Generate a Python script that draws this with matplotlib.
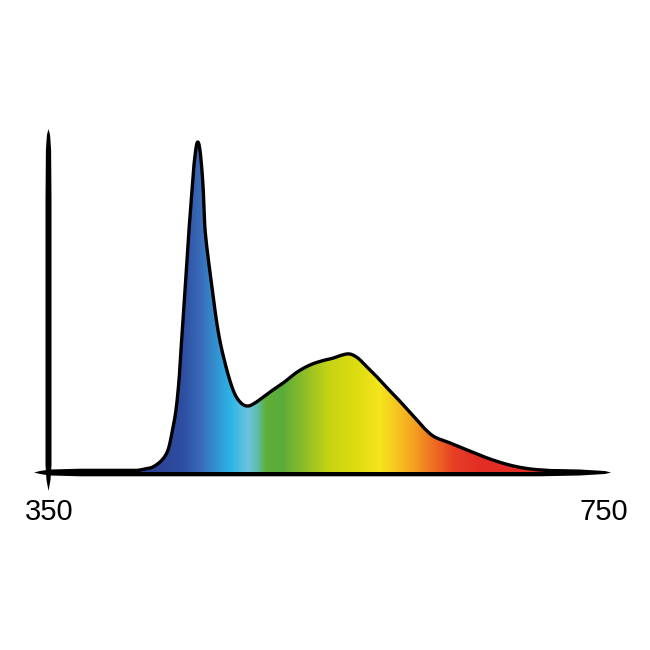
import numpy as np
import matplotlib
matplotlib.use('agg')
import matplotlib.pyplot as plt
from matplotlib.colors import LinearSegmentedColormap
from matplotlib.patches import Polygon

########################## spectrum data ###############################
wavelength = [402.0, 412.8, 420.0, 425.8, 432.3, 436.6, 439.5, 442.4, 444.6,
              446.0, 447.5, 448.9, 450.4, 451.8, 454.0, 455.4, 457.6, 459.7,
              461.9, 463.4, 467.7, 472.7, 477.8, 483.6, 488.6, 493.7, 499.5,
              510.3, 519.7, 529.8, 539.2, 547.8, 555.8, 562.3, 568.0, 573.8,
              579.6, 587.5, 594.8, 602.0, 609.2, 616.4, 622.9, 629.4, 640.2,
              654.7, 669.1, 683.6, 698.0, 716.1, 734.1]
intensity = [0.0, 0.003, 0.009, 0.015, 0.035, 0.064, 0.114, 0.181, 0.269,
             0.357, 0.444, 0.532, 0.620, 0.708, 0.825, 0.898, 0.962, 0.942,
             0.839, 0.708, 0.561, 0.415, 0.319, 0.240, 0.205, 0.193, 0.202,
             0.234, 0.260, 0.292, 0.313, 0.325, 0.333, 0.342, 0.345, 0.333,
             0.310, 0.278, 0.246, 0.216, 0.184, 0.152, 0.123, 0.102, 0.085,
             0.061, 0.038, 0.020, 0.009, 0.003, 0.0]

# fill colours along the wavelength axis
color_nm = [350, 423.6, 448.0, 459.7, 470.6, 481.4, 494.4, 501.6, 506.7, 519.0,
            535.6, 553.6, 571.7, 589.7, 604.0, 615.0, 629.4, 643.9, 662.0, 750]
color_hex = ['#2b3f92', '#2b3f92', '#2e4fa2', '#3a6cb8', '#3390d0', '#2cb4e6',
             '#6cc4dc', '#5cbca8', '#5fb03a', '#5aac38', '#90be28', '#c8d414',
             '#dcdc10', '#f5e51e', '#f6c020', '#f4a020', '#ee6c22', '#e63e25',
             '#e32d24', '#e32d24']

tick_values = [350, 750]


def catmull_rom(x, y, n=12):
    # smooth drawing of the traced outline through every point
    p = np.c_[x, y]
    p = np.vstack([p[0], p, p[-1]])
    out = []
    t = np.linspace(0, 1, n, endpoint=False)[:, None]
    for i in range(1, len(p) - 2):
        p0, p1, p2, p3 = p[i - 1], p[i], p[i + 1], p[i + 2]
        seg = 0.5 * ((2 * p1) + (-p0 + p2) * t + (2 * p0 - 5 * p1 + 4 * p2 - p3) * t ** 2
                     + (-p0 + 3 * p1 - 3 * p2 + p3) * t ** 3)
        out.append(seg)
    out.append(p[-2][None, :])
    out = np.vstack(out)
    return out[:, 0], np.clip(out[:, 1], 0, None)


########################## figure ######################################
fig = plt.figure(figsize=(6.5, 6.5), dpi=100)

# brush-like axis strokes, drawn in pixel space
bg = fig.add_axes([0, 0, 1, 1])
bg.set_xlim(0, 650)
bg.set_ylim(650, 0)
bg.axis('off')

yy = np.linspace(129, 491, 200)
hw = np.interp(yy, [129, 135, 150, 200, 465, 480, 491], [0, 1.6, 2.6, 3.0, 3.0, 2.0, 0])
xs = 48.5 + np.r_[hw, -hw[::-1]]
ys = np.r_[yy, yy[::-1]]
bg.add_patch(Polygon(np.c_[xs, ys], closed=True, fc='black', ec='none'))

xx = np.linspace(34, 611, 300)
hw = np.interp(xx, [34, 40, 50, 80, 540, 580, 605, 611], [0, 1.5, 3.0, 3.8, 3.8, 3.0, 1.5, 0])
ys = 472.5 + np.r_[hw, -hw[::-1]]
xs = np.r_[xx, xx[::-1]]
bg.add_patch(Polygon(np.c_[xs, ys], closed=True, fc='black', ec='none'))

# data axes: 350 nm at the vertical stroke, 750 nm at the right label
ax = fig.add_axes([48 / 650, (650 - 472) / 650, 554 / 650, 342 / 650])
ax.set_xlim(350, 750)
ax.set_ylim(0, 1)
ax.axis('off')

sx, sy = catmull_rom(wavelength, intensity)

stops = [(v - 350) / 400 for v in color_nm]
cmap = LinearSegmentedColormap.from_list('spec', list(zip(stops, color_hex)))
grad = np.linspace(0, 1, 800).reshape(1, -1)
im = ax.imshow(grad, cmap=cmap, extent=[350, 750, 0, 1], aspect='auto',
               origin='lower', interpolation='bilinear', zorder=1)
fill = ax.fill_between(sx, 0, sy, color='none', lw=0)
clip = fill.get_paths()[0]
im.set_clip_path(clip, transform=ax.transData)

ax.plot(sx, sy, color='black', lw=2.4, solid_joinstyle='round',
        solid_capstyle='round', zorder=3)

for v in tick_values:
    ax.text(v + 1, -0.117, str(v), ha='center', va='center',
            fontsize=21, family='Liberation Sans', clip_on=False)

plt.savefig('out.png', dpi=100)
